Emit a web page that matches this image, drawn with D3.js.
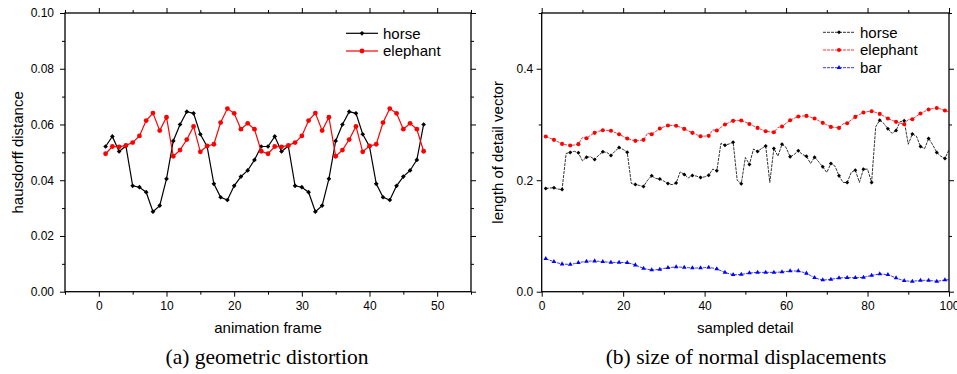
<!DOCTYPE html>
<meta charset="utf-8">
<style>
body { margin: 0; background: #fff; }
svg { font-family: "Liberation Sans", Arial, sans-serif; background: #fff; }
.frame { fill: none; stroke: #000; stroke-width: 1.3; }
.tick line { stroke: #000; stroke-width: 1; }
.tick text { font-size: 12px; fill: #000; }
.label { font-size: 15px; }
.legend text { font-size: 15px; }
.caption { font-family: "Liberation Serif", "Times New Roman", serif; font-size: 21.5px; }
</style>
<svg width="957" height="374"></svg>
<script src="https://d3js.org/d3.v7.min.js"></script>
<script>

// (a) hausdorff distance per animation frame (frames 1..48)
var horseDist = [0.0521,0.0557,0.0503,0.0523,0.0380,0.0375,0.0357,0.0287,0.0309,0.0405,0.0541,0.0600,
  0.0646,0.0640,0.0565,0.0521,0.0387,0.0339,0.0329,0.0380,0.0413,0.0435,0.0473,0.0521,
  0.0521,0.0557,0.0503,0.0523,0.0380,0.0375,0.0357,0.0287,0.0309,0.0405,0.0541,0.0600,
  0.0646,0.0640,0.0565,0.0521,0.0387,0.0339,0.0329,0.0380,0.0413,0.0435,0.0473,0.0600];
var elephantDist = [0.0495,0.0521,0.0520,0.0525,0.0535,0.0559,0.0614,0.0641,0.0578,0.0626,0.0486,0.0508,
  0.0546,0.0593,0.0502,0.0523,0.0529,0.0607,0.0657,0.0640,0.0583,0.0604,0.0583,0.0504,
  0.0495,0.0521,0.0520,0.0525,0.0535,0.0559,0.0614,0.0641,0.0578,0.0626,0.0486,0.0508,
  0.0546,0.0593,0.0502,0.0523,0.0529,0.0607,0.0657,0.0640,0.0583,0.0604,0.0583,0.0504];

// (b) length of detail vector per sampled detail (1..100)
var horseLen = [0.1853,0.186,0.1864,0.184,0.1835,0.248,0.2498,0.252,0.2491,0.2348,
  0.2414,0.242,0.2373,0.245,0.2509,0.2498,0.2444,0.252,0.2587,0.2552,
  0.2503,0.1942,0.1924,0.1906,0.1888,0.2001,0.2079,0.2032,0.202,0.1984,
  0.1942,0.192,0.1948,0.215,0.2104,0.2043,0.2086,0.2073,0.205,0.206,
  0.2091,0.2199,0.2168,0.266,0.2629,0.265,0.2683,0.200,0.1935,0.2408,
  0.2283,0.256,0.2516,0.257,0.2616,0.196,0.257,0.2432,0.2647,0.2587,
  0.242,0.2462,0.2527,0.2462,0.2432,0.23,0.2414,0.233,0.224,0.214,
  0.23,0.2253,0.2079,0.196,0.196,0.214,0.2181,0.196,0.2199,0.2199,
  0.196,0.2957,0.3077,0.3018,0.2925,0.284,0.2893,0.305,0.3065,0.2645,
  0.283,0.279,0.2605,0.2565,0.275,0.2636,0.2498,0.243,0.239,0.2545];
var elephantLen = [0.2785,0.2755,0.2724,0.2688,0.2652,0.2636,0.2623,0.2632,0.2647,0.2767,
  0.2754,0.2805,0.285,0.2877,0.2898,0.2895,0.2886,0.2858,0.2826,0.2786,
  0.2749,0.2725,0.2706,0.2712,0.2724,0.2845,0.2826,0.2875,0.2928,0.2958,
  0.2982,0.2985,0.2978,0.2952,0.2921,0.2886,0.285,0.2818,0.279,0.2791,
  0.2796,0.2903,0.2892,0.2948,0.300,0.3035,0.3065,0.3072,0.3072,0.3043,
  0.301,0.2975,0.2939,0.2908,0.288,0.2868,0.2862,0.2946,0.2964,0.3022,
  0.3077,0.3113,0.3143,0.3152,0.3154,0.3132,0.3106,0.3068,0.3029,0.2992,
  0.2957,0.2946,0.2939,0.301,0.3023,0.3083,0.3136,0.3178,0.3215,0.323,
  0.3238,0.3217,0.319,0.315,0.3107,0.3076,0.3047,0.3025,0.3005,0.309,
  0.3095,0.3148,0.3197,0.3235,0.3269,0.3285,0.3297,0.3276,0.3251,0.3226];
var barLen = [0.0591,0.0565,0.0538,0.0515,0.0496,0.0492,0.049,0.0503,0.052,0.0534,
  0.0545,0.0549,0.055,0.0545,0.0538,0.0532,0.0526,0.0526,0.0526,0.0524,
  0.052,0.0502,0.0478,0.0447,0.0419,0.0402,0.0389,0.0393,0.0401,0.0417,
  0.043,0.0438,0.0443,0.0441,0.0437,0.0431,0.0425,0.0425,0.0425,0.0432,
  0.0437,0.0424,0.0407,0.0376,0.0347,0.0323,0.0305,0.0305,0.031,0.0322,
  0.0335,0.0342,0.0347,0.0347,0.0347,0.0347,0.0347,0.035,0.0353,0.0362,
  0.0371,0.0372,0.0371,0.0352,0.033,0.0289,0.0251,0.0228,0.021,0.0214,
  0.0222,0.0234,0.0246,0.025,0.0251,0.0251,0.0251,0.0254,0.0257,0.0275,
  0.0293,0.0306,0.0317,0.0313,0.0305,0.0277,0.0246,0.022,0.0197,0.019,
  0.0186,0.0195,0.0204,0.0204,0.0204,0.0195,0.0186,0.0197,0.021,0.0215];

var aXMajor = [0, 10, 20, 30, 40, 50], aXMinor = [-5, 5, 15, 25, 35, 45, 55];
var aYMajor = [0, 0.02, 0.04, 0.06, 0.08, 0.10], aYMinor = [0.01, 0.03, 0.05, 0.07, 0.09];
var bXMajor = [0, 20, 40, 60, 80, 100], bXMinor = [10, 30, 50, 70, 90];
var bYMajor = [0, 0.2, 0.4], bYMinor = [0.1, 0.3, 0.5];

var svg = d3.select("svg");

function marker(g, kind, cx, cy, color, s) {
  if (kind == "circle") {
    g.append("circle").attr("cx", cx).attr("cy", cy).attr("r", 2.4 * s).attr("fill", color);
  } else if (kind == "diamond") {
    g.append("path").attr("d", d3.symbol(d3.symbolSquare, 11 * s * s)())
      .attr("transform", "translate(" + cx + "," + cy + ") rotate(45)").attr("fill", color);
  } else {
    g.append("path").attr("d", d3.symbol(d3.symbolTriangle, 13 * s * s)())
      .attr("transform", "translate(" + cx + "," + cy + ")").attr("fill", color);
  }
}

function panel(o) {
  var x = d3.scaleLinear().domain(o.xDomain).range([o.left, o.right]);
  var y = d3.scaleLinear().domain(o.yDomain).range([o.bottom, o.top]);
  var g = svg.append("g");

  function ax(axis, tr, vals, size, fmt, pad) {
    var a = g.append("g").attr("transform", tr)
      .call(axis.tickValues(vals).tickSize(size).tickPadding(pad).tickFormat(fmt));
    a.select(".domain").remove();
    return a;
  }
  var none = function() { return ""; };
  ax(d3.axisBottom(x), "translate(0," + o.bottom + ")", o.xMajor, 5, d3.format("d"), 5);
  ax(d3.axisBottom(x), "translate(0," + o.bottom + ")", o.xMinor, 3, none, 5);
  ax(d3.axisTop(x), "translate(0," + o.top + ")", o.xMajor, 5, none, 3);
  ax(d3.axisTop(x), "translate(0," + o.top + ")", o.xMinor, 3, none, 3);
  ax(d3.axisLeft(y), "translate(" + o.left + ",0)", o.yMajor, 5, d3.format(o.yFmt), o.yPad);
  ax(d3.axisLeft(y), "translate(" + o.left + ",0)", o.yMinor, 3, none, 3);
  ax(d3.axisRight(y), "translate(" + o.right + ",0)", o.yMajor, 5, none, 3);
  ax(d3.axisRight(y), "translate(" + o.right + ",0)", o.yMinor, 3, none, 3);
  g.selectAll(".tick text").attr("font-family", null).attr("font-size", null);

  g.append("rect").attr("class", "frame")
    .attr("x", o.left).attr("y", o.top)
    .attr("width", o.right - o.left).attr("height", o.bottom - o.top);

  var line = d3.line().x(function(d, i) { return x(i + 1); }).y(function(d) { return y(d); });

  o.series.forEach(function(s, k) {
    g.append("path").datum(s.values)
      .attr("fill", "none").attr("stroke", s.color)
      .attr("stroke-width", o.lineWidth)
      .attr("stroke-dasharray", o.dash)
      .attr("d", line);
    var mg = g.append("g");
    s.values.forEach(function(v, i) {
      if (i % o.markEvery == 0) marker(mg, s.marker, x(i + 1), y(v), s.color, o.markScale);
    });
    // legend entry
    var ly = o.legendY + k * 17.7;
    var lg = g.append("g").attr("class", "legend");
    lg.append("line").attr("x1", o.legendX).attr("x2", o.legendX + 32)
      .attr("y1", ly).attr("y2", ly).attr("stroke", s.color)
      .attr("stroke-width", o.lineWidth).attr("stroke-dasharray", o.dash);
    marker(lg, s.marker, o.legendX + 16, ly, s.color, o.markScale);
    lg.append("text").attr("x", o.legendX + 37).attr("y", ly + 5.3).text(s.name);
  });

  var cx = (o.left + o.right) / 2;
  g.append("text").attr("class", "label").attr("text-anchor", "middle")
    .attr("x", cx).attr("y", 333).text(o.xLabel);
  g.append("text").attr("class", "label").attr("text-anchor", "middle")
    .attr("transform", "translate(" + o.yLabelX + "," + ((o.top + o.bottom) / 2) + ") rotate(-90)")
    .text(o.yLabel);
  g.append("text").attr("class", "caption").attr("text-anchor", "middle")
    .attr("x", o.captionX).attr("y", 364).text(o.caption);
}

panel({
  left: 65, right: 471, top: 13, bottom: 291.7,
  xDomain: [-5, 55], yDomain: [0, 0.10],
  xMajor: aXMajor, xMinor: aXMinor, yMajor: aYMajor, yMinor: aYMinor,
  yFmt: ".2f", yPad: 6, lineWidth: 1.2, dash: null, markEvery: 1, markScale: 1,
  legendX: 346, legendY: 33.3,
  series: [
    { name: "horse", values: horseDist, color: "#000", marker: "diamond" },
    { name: "elephant", values: elephantDist, color: "#f00", marker: "circle" }
  ],
  xLabel: "animation frame", yLabel: "hausdorff distance", yLabelX: 22.5,
  caption: "(a) geometric distortion", captionX: 267
});

panel({
  left: 541.7, right: 949, top: 13, bottom: 291.7,
  xDomain: [0, 100], yDomain: [0, 0.5],
  xMajor: bXMajor, xMinor: bXMinor, yMajor: bYMajor, yMinor: bYMinor,
  yFmt: ".1f", yPad: 3.5, lineWidth: 0.8, dash: "3,1", markEvery: 2, markScale: 0.85,
  legendX: 823, legendY: 32.3,
  series: [
    { name: "horse", values: horseLen, color: "#000", marker: "diamond" },
    { name: "elephant", values: elephantLen, color: "#f00", marker: "circle" },
    { name: "bar", values: barLen, color: "#00f", marker: "triangle" }
  ],
  xLabel: "sampled detail", yLabel: "length of detail vector", yLabelX: 503,
  caption: "(b) size of normal displacements", captionX: 746
});

</script>
